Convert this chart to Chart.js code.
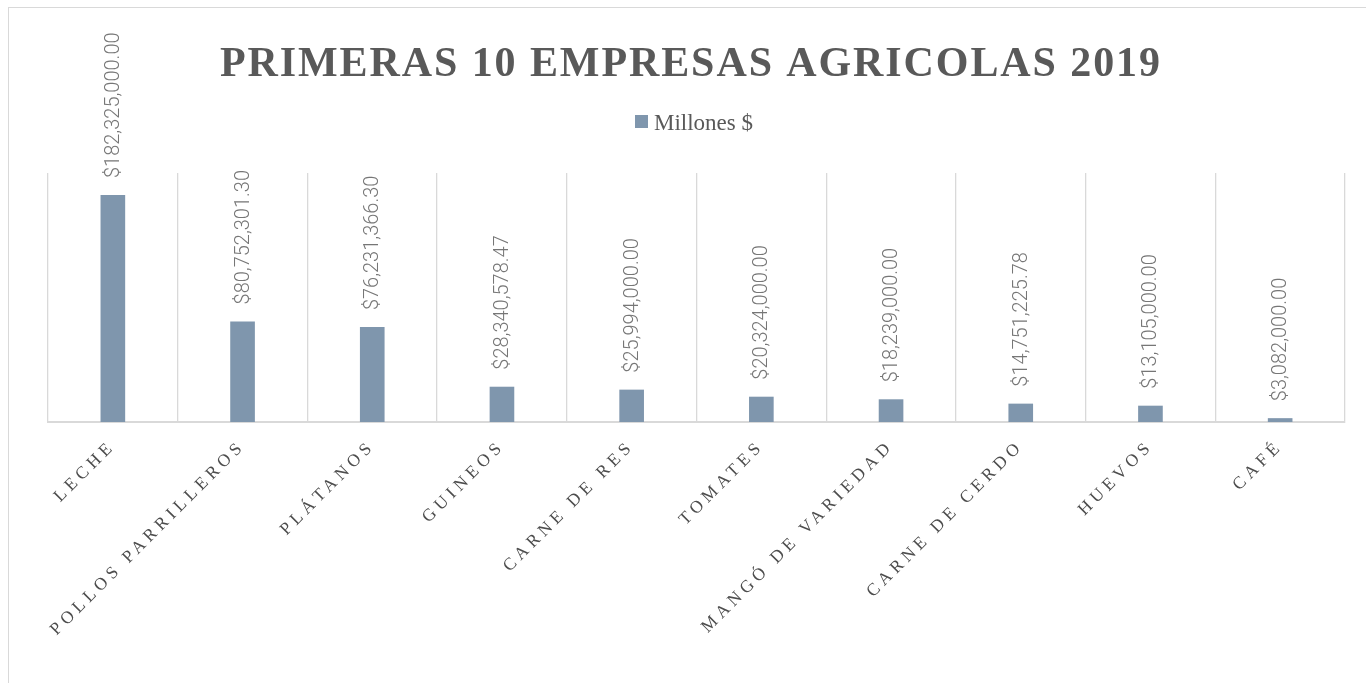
<!DOCTYPE html>
<html>
<head>
<meta charset="utf-8">
<script src="https://cdn.jsdelivr.net/npm/chart.js@4/dist/chart.umd.min.js"></script>
<style>
  html, body { margin: 0; padding: 0; background: #fff; overflow: hidden; }
  #marco { position: absolute; left: 8px; top: 7px; width: 1400px; height: 700px; border: 1px solid #d9d9d9; }
  #caja { position: absolute; left: 0; top: 0; width: 1366px; height: 683px; }
</style>
</head>
<body>
<div id="marco"></div>
<div id="caja"><canvas id="grafico"></canvas></div>
<script>
// Datos del gráfico
const categorias = ['LECHE', 'POLLOS PARRILLEROS', 'PLÁTANOS', 'GUINEOS', 'CARNE DE RES',
  'TOMATES', 'MANGÓ DE VARIEDAD', 'CARNE DE CERDO', 'HUEVOS', 'CAFÉ'];
const millones = [182325000, 80752301.30, 76231366.30, 28340578.47, 25994000,
  20324000, 18239000, 14751225.78, 13105000, 3082000];
const titulo = 'PRIMERAS 10 EMPRESAS AGRICOLAS 2019';
const serie = 'Millones $';

const colorBarra = '#7f96ad';
const fmt = v => '$' + v.toLocaleString('en-US', { minimumFractionDigits: 2, maximumFractionDigits: 2 });

// Título, leyenda y etiquetas de datos dibujados a mano (espaciado de letras)
const extras = {
  id: 'extras',
  beforeDraw(chart) {
    chart.ctx.letterSpacing = '4.5px'; // para las etiquetas del eje X
  },
  afterDatasetsDraw(chart) {
    const ctx = chart.ctx;
    const meta = chart.getDatasetMeta(0);
    ctx.save();
    ctx.letterSpacing = '0px';
    ctx.font = '300 20px Roboto';
    ctx.fillStyle = '#767676';
    ctx.textAlign = 'left';
    ctx.textBaseline = 'middle';
    meta.data.forEach((bar, i) => {
      ctx.save();
      ctx.translate(bar.x + 1, bar.y - 17);
      ctx.rotate(-Math.PI / 2);
      ctx.fillText(fmt(millones[i]), 0, 0);
      ctx.restore();
    });
    ctx.restore();
  },
  afterDraw(chart) {
    const ctx = chart.ctx;
    ctx.save();
    // título
    ctx.font = 'bold 42px "Liberation Serif"';
    ctx.letterSpacing = '0px';
    const w = ctx.measureText(titulo).width;
    const esp = (940 - w) / (titulo.length - 1);
    ctx.letterSpacing = esp + 'px';
    ctx.fillStyle = '#595959';
    ctx.textAlign = 'left';
    ctx.textBaseline = 'alphabetic';
    ctx.fillText(titulo, 220, 76);
    // leyenda
    ctx.letterSpacing = '0px';
    ctx.fillStyle = colorBarra;
    ctx.fillRect(635, 115, 13, 13);
    ctx.fillStyle = '#595959';
    ctx.font = '23px "Liberation Serif"';
    ctx.fillText(serie, 654, 130);
    ctx.restore();
    ctx.letterSpacing = '0px';
  }
};

new Chart(document.getElementById('grafico'), {
  type: 'bar',
  data: {
    labels: categorias,
    datasets: [{
      label: serie,
      data: millones,
      backgroundColor: colorBarra,
      barPercentage: 0.19,
      categoryPercentage: 1
    }]
  },
  options: {
    responsive: true,
    maintainAspectRatio: false,
    animation: false,
    layout: { autoPadding: false, padding: { top: 173, left: 48, right: 21, bottom: 0 } },
    plugins: {
      legend: { display: false },
      title: { display: false },
      tooltip: { enabled: false }
    },
    scales: {
      x: {
        grid: { offset: true, color: '#d9d9d9', lineWidth: 1.3, drawTicks: false },
        border: { color: '#d9d9d9', width: 2 },
        ticks: {
          color: '#4d4d4d',
          font: { family: 'Liberation Serif', size: 17.5 },
          minRotation: 45,
          maxRotation: 45,
          autoSkip: false,
          padding: 14
        },
        afterFit(scale) { scale.height = 261; }
      },
      y: {
        display: false,
        min: 0,
        max: 200000000
      }
    }
  },
  plugins: [extras]
});
</script>
</body>
</html>
